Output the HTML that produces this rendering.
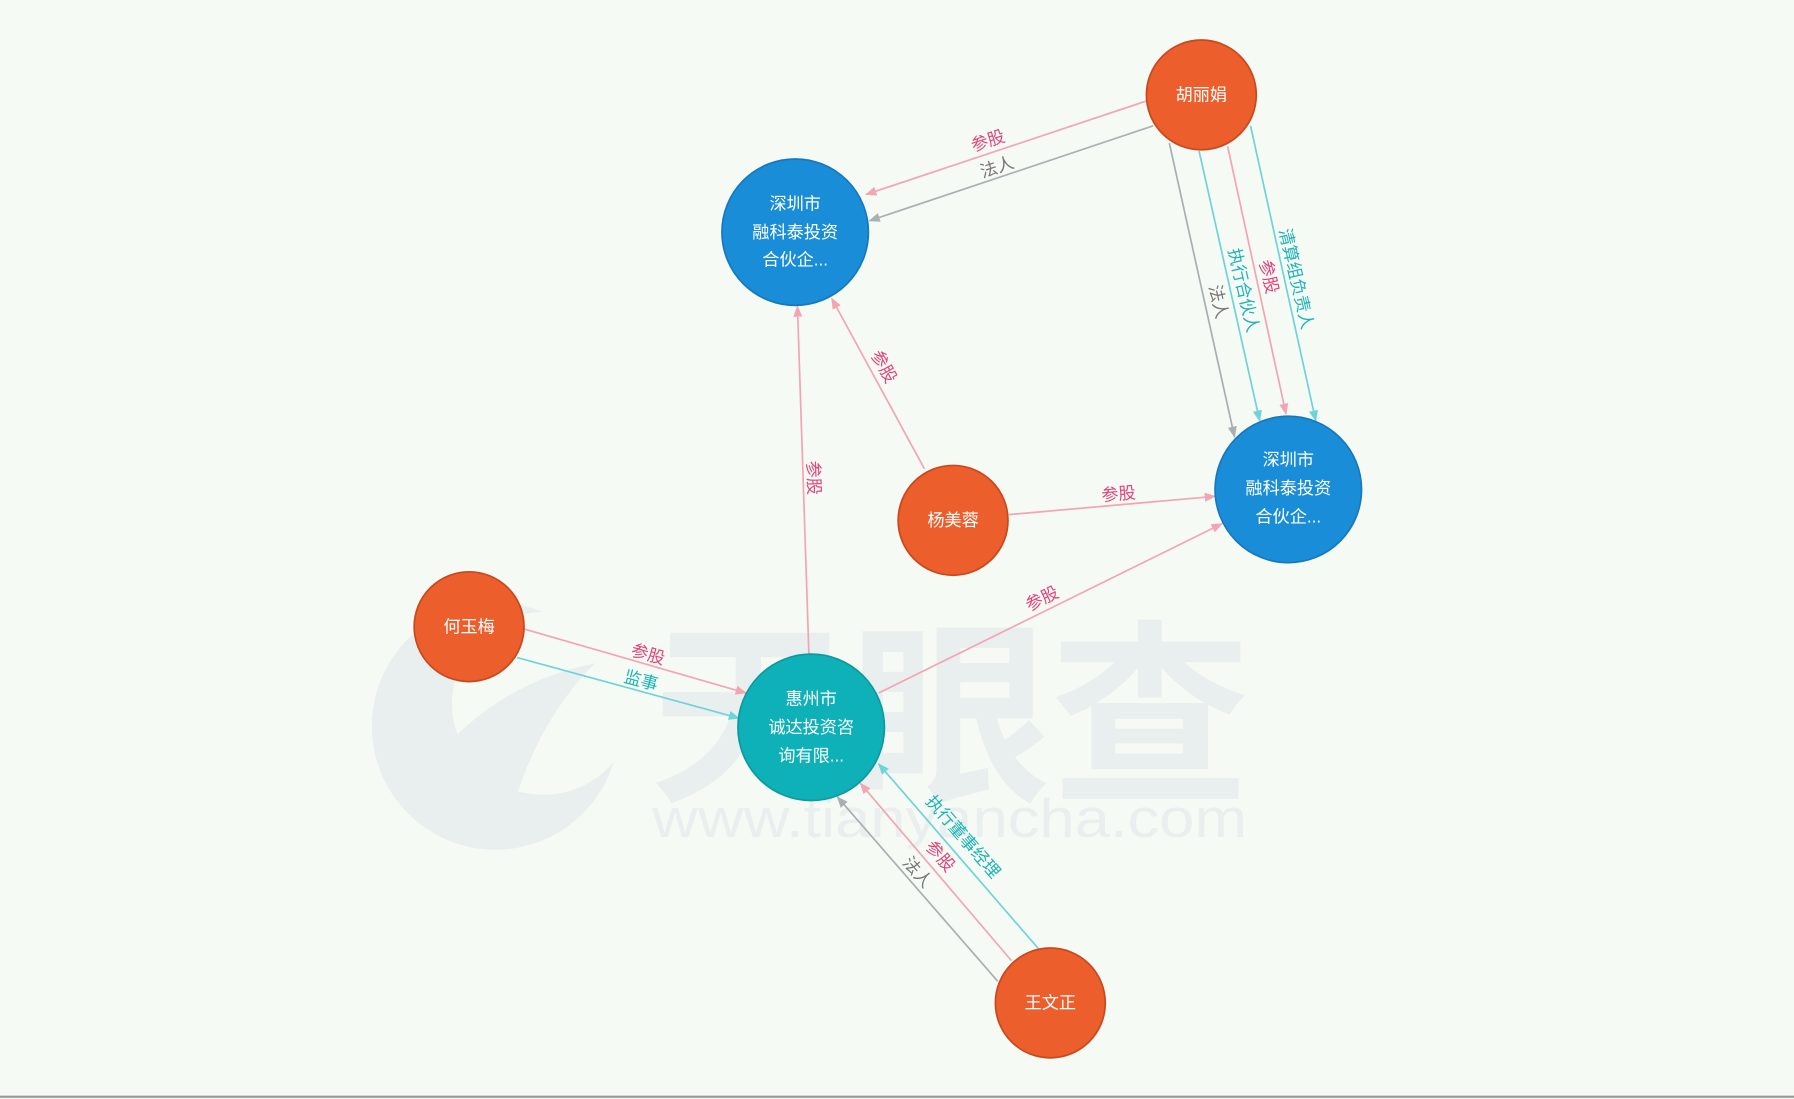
<!DOCTYPE html>
<html><head><meta charset="utf-8"><style>
html,body{margin:0;padding:0;background:#f6faf4;}
svg{display:block}
text{font-family:"Liberation Sans","Noto Sans CJK SC",sans-serif;}
</style></head><body>
<svg width="1794" height="1099" viewBox="0 0 1568 961" preserveAspectRatio="none" xmlns="http://www.w3.org/2000/svg">
<defs>
<marker id="ap" markerWidth="10" markerHeight="8" refX="9" refY="4" orient="auto" markerUnits="userSpaceOnUse"><path d="M0,0 L10,4 L0,8 z" fill="#f4a5b4"/></marker>
<marker id="ag" markerWidth="10" markerHeight="8" refX="9" refY="4" orient="auto" markerUnits="userSpaceOnUse"><path d="M0,0 L10,4 L0,8 z" fill="#a9b0b3"/></marker>
<marker id="at" markerWidth="10" markerHeight="8" refX="9" refY="4" orient="auto" markerUnits="userSpaceOnUse"><path d="M0,0 L10,4 L0,8 z" fill="#6fd4d8"/></marker>
</defs>
<rect width="1568" height="961" fill="#f6faf4"/>
<!-- watermark -->
<g opacity="0.55">
<circle cx="433" cy="635" r="108" fill="#dfe5ec"/>
<circle cx="475" cy="615" r="80" fill="#f6faf4"/>
<path d="M360,690 Q420,600 520,580 Q460,640 440,740 Z" fill="#dfe5ec"/>
<text x="568" y="688" font-size="172" font-weight="bold" fill="#dfe5ec" textLength="525" lengthAdjust="spacingAndGlyphs">天眼查</text>
<text x="570" y="732" font-size="48" fill="#dfe5ec" textLength="520" lengthAdjust="spacingAndGlyphs">www.tianyancha.com</text>
</g>
<line x1="0" y1="959" x2="1568" y2="959" stroke="#9a9a9a" stroke-width="2"/>
<g fill="none" stroke-width="1.5">
<line x1="1003" y1="88" x2="757" y2="170" stroke="#f4a5b4" marker-end="url(#ap)"/>
<line x1="1008" y1="110" x2="760" y2="193" stroke="#a9b0b3" marker-end="url(#ag)"/>
<line x1="1022" y1="125" x2="1079" y2="382" stroke="#a9b0b3" marker-end="url(#ag)"/>
<line x1="1048" y1="132" x2="1101" y2="368" stroke="#6fd4d8" marker-end="url(#at)"/>
<line x1="1073" y1="128" x2="1124" y2="362" stroke="#f4a5b4" marker-end="url(#ap)"/>
<line x1="1093" y1="110" x2="1150" y2="368" stroke="#6fd4d8" marker-end="url(#at)"/>
<line x1="808" y1="410" x2="727" y2="261" stroke="#f4a5b4" marker-end="url(#ap)"/>
<line x1="882" y1="450" x2="1062" y2="434" stroke="#f4a5b4" marker-end="url(#ap)"/>
<line x1="707" y1="572" x2="697" y2="268" stroke="#f4a5b4" marker-end="url(#ap)"/>
<line x1="768" y1="606" x2="1068" y2="458" stroke="#f4a5b4" marker-end="url(#ap)"/>
<line x1="458" y1="550" x2="652" y2="606" stroke="#f4a5b4" marker-end="url(#ap)"/>
<line x1="452" y1="575" x2="646" y2="628" stroke="#6fd4d8" marker-end="url(#at)"/>
<line x1="872" y1="858" x2="732" y2="697" stroke="#a9b0b3" marker-end="url(#ag)"/>
<line x1="884" y1="840" x2="752" y2="685" stroke="#f4a5b4" marker-end="url(#ap)"/>
<line x1="908" y1="830" x2="768" y2="668" stroke="#6fd4d8" marker-end="url(#at)"/>
</g>
<g font-size="15" text-anchor="middle">
<text transform="translate(865,128) rotate(-18)" fill="#e0457a">参股</text>
<text transform="translate(873,151) rotate(-18)" fill="#777">法人</text>
<text transform="translate(1060,265) rotate(77)" fill="#777">法人</text>
<text transform="translate(1082,255) rotate(77)" fill="#1fb3b7">执行合伙人</text>
<text transform="translate(1104,243) rotate(77)" fill="#e0457a">参股</text>
<text transform="translate(1128,245) rotate(77)" fill="#1fb3b7">清算组负责人</text>
<text transform="translate(768,323) rotate(61)" fill="#e0457a">参股</text>
<text transform="translate(978,437) rotate(-5)" fill="#e0457a">参股</text>
<text transform="translate(706,418) rotate(88)" fill="#e0457a">参股</text>
<text transform="translate(913,528) rotate(-26)" fill="#e0457a">参股</text>
<text transform="translate(565,577) rotate(16)" fill="#e0457a">参股</text>
<text transform="translate(559,600) rotate(15)" fill="#1fb3b7">监事</text>
<text transform="translate(798,766) rotate(49)" fill="#777">法人</text>
<text transform="translate(818,752) rotate(49)" fill="#e0457a">参股</text>
<text transform="translate(838,735) rotate(49)" fill="#1fb3b7">执行董事经理</text>
</g>
<g stroke-width="1.5">
<circle cx="1050" cy="83" r="48" fill="#ec5f2d" stroke="#c9481d"/>
<circle cx="695" cy="203" r="64" fill="#1a8dd8" stroke="#1779bd"/>
<circle cx="1126" cy="428" r="64" fill="#1a8dd8" stroke="#1779bd"/>
<circle cx="833" cy="455" r="48" fill="#ec5f2d" stroke="#c9481d"/>
<circle cx="410" cy="548" r="48" fill="#ec5f2d" stroke="#c9481d"/>
<circle cx="709" cy="636" r="64" fill="#0fb1b9" stroke="#0c9aa0"/>
<circle cx="918" cy="877" r="48" fill="#ec5f2d" stroke="#c9481d"/>
</g>
<g font-size="15" fill="#fff" text-anchor="middle">
<text x="1050" y="88">胡丽娟</text>
<text x="833" y="460">杨美蓉</text>
<text x="410" y="553">何玉梅</text>
<text x="918" y="882">王文正</text>
<text x="695" y="183">深圳市</text>
<text x="695" y="208">融科泰投资</text>
<text x="695" y="232">合伙企...</text>
<text x="1126" y="407">深圳市</text>
<text x="1126" y="432">融科泰投资</text>
<text x="1126" y="457">合伙企...</text>
<text x="709" y="616">惠州市</text>
<text x="709" y="641">诚达投资咨</text>
<text x="709" y="666">询有限...</text>
</g>
</svg>
</body></html>
